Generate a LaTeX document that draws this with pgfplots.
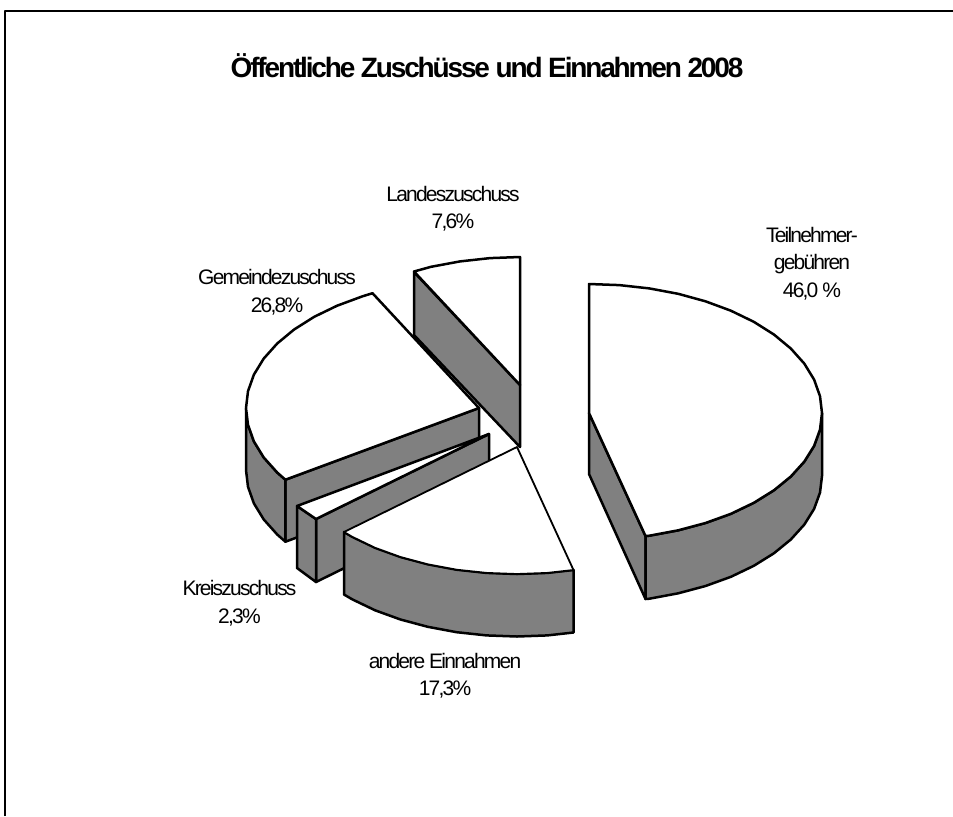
\documentclass[border=0pt]{standalone}
\usepackage{pgfplots}
\usepackage{fontspec}
\setmainfont[LetterSpace=-8.5]{Liberation Sans}
\newfontfamily\titlefont[LetterSpace=-7.7]{Liberation Sans}
\pgfplotsset{compat=1.18}
\definecolor{wall}{RGB}{128,128,128}

\begin{document}
\begin{tikzpicture}
\begin{axis}[
    scale only axis,
    width=476.5pt,
    height=408pt,
    xmin=0, xmax=953,
    ymin=0, ymax=816,
    y dir=reverse,
    hide axis,
    every axis plot/.append style={line width=1.25pt, line join=round, mark=none},
]
% page and frame
\addplot[draw=none, fill=white] coordinates {(0,0) (953,0) (953,816) (0,816)} --cycle;
\addplot[black, line width=1.3pt] coordinates {(5,816) (5,11) (953,11)};

% Landeszuschuss 7,6
\addplot[fill=wall] coordinates {(414,272) (520,385) (520,447) (414,335)} --cycle;
\addplot[fill=white] coordinates {(520,385) (414,271.5) (431,266.8) (460,261.4) (490,258.1) (520,257)} --cycle;

% Gemeindezuschuss 26,8
\addplot[fill=wall] coordinates {(285.4,479.7) (479,408) (479,470) (285.4,541.7)} --cycle;
\addplot[fill=wall] coordinates {(246,408) (248,424.8) (253.9,441.4) (263.7,457.4) (277.2,472.5) (285.4,479.7)
    (285.4,541.7) (277.2,534.5) (263.7,519.4) (253.9,503.4) (248,486.8) (246,470)} --cycle;
\addplot[fill=white] coordinates {(479,408) (285.4,479.7) (277.2,472.5) (263.7,457.4) (253.9,441.4) (248,424.8) (246,408)
    (248,391.2) (253.9,374.6) (263.7,358.6) (277.2,343.5) (294.1,329.5) (314.2,316.8) (337.1,305.7) (362.5,296.3) (372.5,293.2)} --cycle;

% Kreiszuschuss 2,3
\addplot[fill=wall] coordinates {(316,519) (489,434) (489,497) (316,582)} --cycle;
\addplot[fill=wall] coordinates {(297,506) (316,519) (316,582) (297,568)} --cycle;
\addplot[fill=white] coordinates {(489,434) (316,519) (297,506)} --cycle;

% andere Einnahmen 17,3
\addplot[fill=wall] coordinates {(573.5,570) (547.4,572.9) (517,574) (486.6,572.9) (456.7,569.7) (427.8,564.3) (400.5,557) (375.1,547.8) (352.2,536.8) (344,532)
    (344,594.5) (352.2,599.3) (375.1,610.3) (400.5,619.5) (427.8,626.8) (456.7,632.2) (486.6,635.4) (517,636.5) (547.4,635.4) (573.5,632.5)} --cycle;
\addplot[fill=white, line width=0.9pt] coordinates {(517,447) (573.5,570) (547.4,572.9) (517,574) (486.6,572.9) (456.7,569.7) (427.8,564.3) (400.5,557) (375.1,547.8) (352.2,536.8) (344,532)} --cycle;

% Teilnehmergebuehren 46,0
\addplot[fill=wall] coordinates {(589,413) (645.5,536) (645.5,599) (589,474)} --cycle;
\addplot[fill=wall] coordinates {(822,413) (820,429.6) (814.1,445.9) (804.3,461.6) (790.8,476.5) (773.9,490.3) (753.8,502.8) (730.9,513.8) (705.5,523) (678.2,530.3) (649.3,535.7) (645.5,536)
    (645.5,599) (649.3,598.7) (678.2,593.3) (705.5,586) (730.9,576.8) (753.8,565.8) (773.9,553.3) (790.8,539.5) (804.3,524.6) (814.1,508.9) (820,492.6) (822,476)} --cycle;
\addplot[fill=white] coordinates {(589,413) (589,284) (619.4,285.1) (649.3,288.4) (678.2,293.8) (705.5,301.3) (730.9,310.7) (753.8,321.8) (773.9,334.5) (790.8,348.5) (804.3,363.6) (814.1,379.6) (820,396.2) (822,413)
    (820,429.6) (814.1,445.9) (804.3,461.6) (790.8,476.5) (773.9,490.3) (753.8,502.8) (730.9,513.8) (705.5,523) (678.2,530.3) (649.3,535.7) (645.5,536)} --cycle;

% texts
\node[font=\titlefont\fontsize{14pt}{16pt}\selectfont\bfseries] at (axis cs:487,66) {Öffentliche Zuschüsse und Einnahmen 2008};
\node[font=\fontsize{10.5pt}{13.75pt}\selectfont, align=center] at (axis cs:453,208.5) {Landeszuschuss\\7,6\%};
\node[font=\fontsize{10.5pt}{13.75pt}\selectfont, align=center] at (axis cs:812,263.5) {Teilnehmer-\\gebühren\\46,0 \%};
\node[font=\fontsize{10.5pt}{13.75pt}\selectfont, align=center] at (axis cs:277,292) {Gemeindezuschuss\\26,8\%};
\node[font=\fontsize{10.5pt}{13.75pt}\selectfont, align=center] at (axis cs:239.5,603) {Kreiszuschuss\\2,3\%};
\node[font=\fontsize{10.5pt}{13.75pt}\selectfont, align=center] at (axis cs:445,675.5) {andere Einnahmen\\17,3\%};
\end{axis}
\end{tikzpicture}
\end{document}
